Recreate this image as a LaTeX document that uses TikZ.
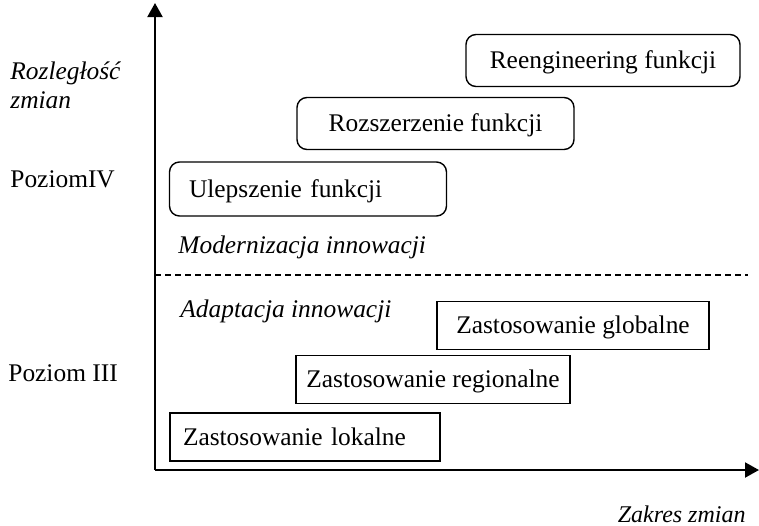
\documentclass[tikz,border=0pt]{standalone}
\usepackage{fontspec}
\setmainfont{Liberation Serif}
\usetikzlibrary{arrows.meta}

\tikzset{
  box/.style={draw,line width=0.7pt,inner sep=0pt,text height=11pt,text depth=3pt},
  fun/.style={box,rounded corners=5pt,minimum height=26pt},
  zast/.style={box,minimum height=24pt},
  lbl/.style={anchor=base west,inner sep=0pt}
}

\begin{document}
\begin{tikzpicture}[x=0.5pt,y=-0.5pt,>={Triangle[length=7pt,width=7.5pt]},font=\fontsize{12.7}{15}\selectfont]
  \useasboundingbox (0,0) rectangle (759,525);
  % axes
  \coordinate (O) at (155,470);
  \coordinate (Y) at (155,3);
  \coordinate (X) at (759,470);
  \draw[->,line width=1pt] (O)--(Y);
  \draw[->,line width=1pt] (O)--(X);
  \coordinate (D1) at (155,275);
  \coordinate (D2) at (748,275);
  \draw[dashed,dash pattern=on 3pt off 2pt,line width=0.6pt] (D1)--(D2);
  % poziom IV
  \node[fun,minimum width=137pt] (reeng) at (603,60.5) {Reengineering funkcji};
  \node[fun,minimum width=138.5pt] (rozsz) at (435.5,123.5) {Rozszerzenie funkcji};
  \node[fun,minimum width=138.5pt,minimum height=27pt,text width=119pt,align=left,inner xsep=9.5pt] (ulep) at (308,189) {Ulepszenie funkcji};
  % poziom III
  \node[zast,minimum width=136pt] (glob) at (573,325.5) {Zastosowanie globalne};
  \node[zast,minimum width=137pt] (reg) at (433,379.5) {Zastosowanie regionalne};
  \node[zast,text width=122pt,align=left,inner xsep=6.5pt] (lok) at (305,437) {Zastosowanie lokalne};
  % opisy
  \node[lbl] (rozl) at (10,79) {\itshape Rozległość};
  \node[lbl] (zm) at (10,108) {\itshape zmian};
  \node[lbl] (p4) at (10,187) {PoziomIV};
  \node[lbl] (p3) at (8,381) {Poziom III};
  \node[lbl] (mod) at (178,253) {\itshape Modernizacja innowacji};
  \node[lbl] (ada) at (180,317) {\itshape Adaptacja innowacji};
  \node[lbl,anchor=base east,font=\fontsize{12}{14}\selectfont] (zak) at (746,522) {\itshape Zakres zmian};
\end{tikzpicture}
\end{document}
